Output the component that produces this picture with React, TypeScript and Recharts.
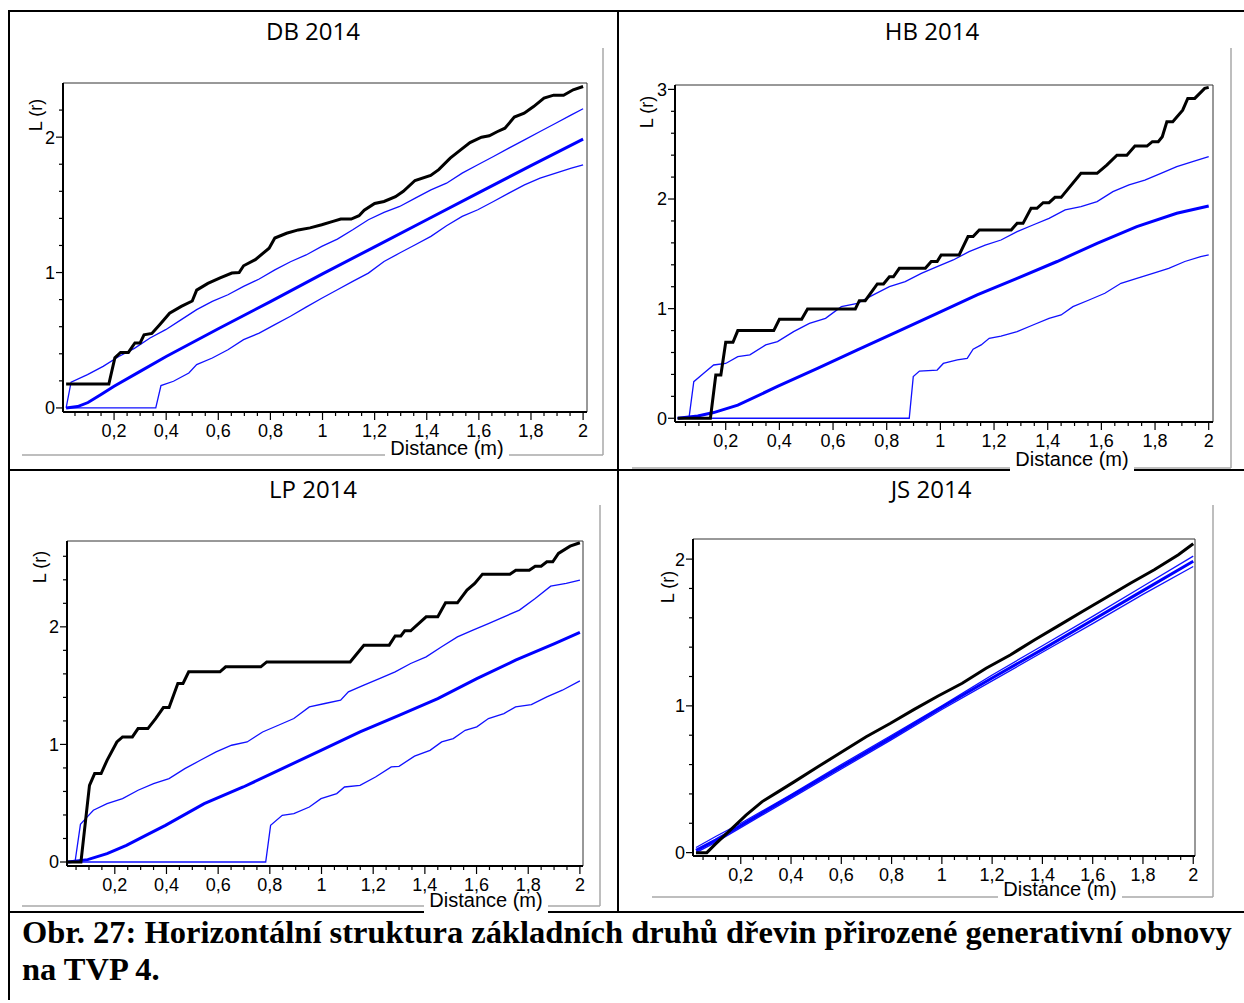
import { LineChart, Line, XAxis, YAxis, ReferenceArea } from 'recharts'

type Pt = [number, number]

// x ticks (m): minor every 0.05, labelled every 0.2
const xTicks = [
  0.05, 0.1, 0.15, 0.2, 0.25, 0.3, 0.35, 0.4, 0.45, 0.5, 0.55, 0.6, 0.65, 0.7, 0.75, 0.8, 0.85, 0.9, 0.95, 1,
  1.05, 1.1, 1.15, 1.2, 1.25, 1.3, 1.35, 1.4, 1.45, 1.5, 1.55, 1.6, 1.65, 1.7, 1.75, 1.8, 1.85, 1.9, 1.95, 2,
]
const xLabels = [0.2, 0.4, 0.6, 0.8, 1, 1.2, 1.4, 1.6, 1.8, 2]
const yLabels = [0, 1, 2, 3]

const dbYTicks = [0, 0.2, 0.4, 0.6, 0.8, 1, 1.2, 1.4, 1.6, 1.8, 2, 2.2]
const hbYTicks = [0, 0.2, 0.4, 0.6, 0.8, 1, 1.2, 1.4, 1.6, 1.8, 2, 2.2, 2.4, 2.6, 2.8, 3]
const lpYTicks = [0, 0.2, 0.4, 0.6, 0.8, 1, 1.2, 1.4, 1.6, 1.8, 2, 2.2, 2.4, 2.6]
const jsYTicks = [0, 0.2, 0.4, 0.6, 0.8, 1, 1.2, 1.4, 1.6, 1.8, 2]

// DB 2014
const dbObserved: Pt[] = [
  [0.016, 0.177], [0.18, 0.177], [0.203, 0.37], [0.225, 0.41], [0.255, 0.41], [0.28, 0.48], [0.3, 0.48],
  [0.315, 0.54], [0.345, 0.55], [0.375, 0.615], [0.413, 0.7], [0.458, 0.75], [0.5, 0.79], [0.517, 0.87],
  [0.56, 0.92], [0.607, 0.96], [0.652, 0.996], [0.68, 1.0], [0.697, 1.05], [0.742, 1.095], [0.795, 1.18],
  [0.817, 1.255], [0.862, 1.29], [0.907, 1.315], [0.952, 1.33], [0.997, 1.353], [1.04, 1.378], [1.07, 1.395],
  [1.11, 1.395], [1.14, 1.42], [1.16, 1.46], [1.2, 1.51], [1.236, 1.525], [1.28, 1.56], [1.31, 1.6],
  [1.355, 1.68], [1.415, 1.717], [1.446, 1.76], [1.49, 1.845], [1.53, 1.906], [1.566, 1.96], [1.61, 2.0],
  [1.64, 2.01], [1.67, 2.04], [1.7, 2.066], [1.736, 2.148], [1.774, 2.177], [1.81, 2.226], [1.85, 2.288],
  [1.887, 2.31], [1.925, 2.31], [1.962, 2.35], [2.0, 2.374],
]
const dbUpper: Pt[] = [
  [0.016, 0], [0.035, 0.19], [0.098, 0.246], [0.158, 0.307], [0.218, 0.38], [0.278, 0.44], [0.338, 0.517],
  [0.398, 0.578], [0.458, 0.652], [0.517, 0.726], [0.577, 0.787], [0.637, 0.836], [0.697, 0.898],
  [0.757, 0.952], [0.817, 1.02], [0.877, 1.08], [0.937, 1.13], [0.997, 1.193], [1.057, 1.247], [1.116, 1.316],
  [1.176, 1.39], [1.236, 1.444], [1.296, 1.488], [1.356, 1.55], [1.416, 1.61], [1.476, 1.66], [1.536, 1.734],
  [1.596, 1.796], [1.656, 1.857], [1.715, 1.919], [1.775, 1.98], [1.835, 2.042], [1.895, 2.103],
  [1.955, 2.165], [2.0, 2.21],
]
const dbTheory: Pt[] = [
  [0.016, 0], [0.06, 0.01], [0.1, 0.04], [0.15, 0.1], [0.2, 0.16], [0.3, 0.27], [0.4, 0.38], [0.6, 0.585],
  [0.8, 0.785], [1, 0.99], [1.2, 1.19], [1.4, 1.39], [1.6, 1.59], [1.8, 1.79], [2, 1.985],
]
const dbLower: Pt[] = [
  [0.016, 0], [0.36, 0], [0.38, 0.165], [0.428, 0.197], [0.487, 0.258], [0.517, 0.32], [0.577, 0.369],
  [0.637, 0.43], [0.697, 0.504], [0.757, 0.553], [0.817, 0.615], [0.877, 0.677], [0.937, 0.745],
  [0.997, 0.81], [1.057, 0.873], [1.116, 0.935], [1.176, 0.996], [1.236, 1.082], [1.296, 1.144],
  [1.356, 1.205], [1.416, 1.267], [1.476, 1.346], [1.536, 1.415], [1.596, 1.464], [1.656, 1.525],
  [1.715, 1.587], [1.775, 1.648], [1.835, 1.697], [1.895, 1.734], [1.955, 1.771], [2.0, 1.796],
]

// HB 2014
const hbObserved: Pt[] = [
  [0.021, 0], [0.143, 0], [0.163, 0.395], [0.182, 0.395], [0.2, 0.693], [0.227, 0.693], [0.245, 0.8],
  [0.379, 0.8], [0.4, 0.903], [0.483, 0.903], [0.505, 0.997], [0.683, 0.997], [0.698, 1.073], [0.72, 1.073],
  [0.765, 1.225], [0.788, 1.225], [0.81, 1.29], [0.825, 1.29], [0.847, 1.368], [0.944, 1.368], [0.966, 1.43],
  [0.988, 1.43], [1.003, 1.49], [1.07, 1.49], [1.103, 1.657], [1.122, 1.657], [1.145, 1.717], [1.264, 1.717],
  [1.286, 1.778], [1.308, 1.778], [1.338, 1.915], [1.36, 1.915], [1.383, 1.967], [1.405, 1.967],
  [1.427, 2.015], [1.45, 2.015], [1.524, 2.234], [1.584, 2.234], [1.62, 2.31], [1.658, 2.4], [1.695, 2.4],
  [1.725, 2.483], [1.77, 2.483], [1.79, 2.523], [1.812, 2.523], [1.827, 2.568], [1.844, 2.705],
  [1.866, 2.705], [1.903, 2.81], [1.922, 2.918], [1.948, 2.918], [1.985, 3.009], [2.0, 3.018],
]
const hbUpper: Pt[] = [
  [0.021, 0], [0.063, 0], [0.081, 0.334], [0.118, 0.41], [0.155, 0.486], [0.2, 0.5], [0.245, 0.562],
  [0.29, 0.578], [0.349, 0.669], [0.393, 0.7], [0.453, 0.79], [0.512, 0.866], [0.572, 0.912], [0.631, 1.018],
  [0.691, 1.049], [0.75, 1.125], [0.81, 1.2], [0.869, 1.246], [0.929, 1.322], [0.988, 1.383], [1.048, 1.444],
  [1.107, 1.52], [1.167, 1.58], [1.226, 1.626], [1.286, 1.702], [1.345, 1.763], [1.405, 1.824],
  [1.465, 1.9], [1.524, 1.93], [1.584, 1.976], [1.643, 2.067], [1.703, 2.128], [1.762, 2.173],
  [1.822, 2.234], [1.881, 2.295], [1.94, 2.34], [2.0, 2.386],
]
const hbTheory: Pt[] = [
  [0.021, 0], [0.096, 0.02], [0.155, 0.052], [0.245, 0.12], [0.393, 0.29], [0.542, 0.456], [0.691, 0.623],
  [0.84, 0.79], [0.988, 0.957], [1.137, 1.125], [1.286, 1.277], [1.435, 1.43], [1.584, 1.596],
  [1.732, 1.748], [1.881, 1.87], [2.0, 1.936],
]
const hbLower: Pt[] = [
  [0.021, 0], [0.884, 0], [0.899, 0.38], [0.922, 0.43], [0.988, 0.44], [1.011, 0.5], [1.063, 0.532],
  [1.1, 0.547], [1.122, 0.63], [1.152, 0.669], [1.182, 0.73], [1.226, 0.75], [1.286, 0.79], [1.345, 0.851],
  [1.405, 0.912], [1.45, 0.942], [1.494, 1.018], [1.554, 1.079], [1.613, 1.14], [1.673, 1.231],
  [1.732, 1.277], [1.792, 1.322], [1.851, 1.368], [1.911, 1.43], [1.97, 1.474], [2.0, 1.49],
]

// LP 2014
const lpObserved: Pt[] = [
  [0.019, 0], [0.069, 0], [0.102, 0.652], [0.122, 0.752], [0.147, 0.752], [0.17, 0.865], [0.208, 1.021],
  [0.23, 1.064], [0.268, 1.064], [0.29, 1.135], [0.328, 1.135], [0.358, 1.22], [0.388, 1.313], [0.41, 1.313],
  [0.444, 1.518], [0.464, 1.518], [0.486, 1.617], [0.607, 1.617], [0.629, 1.66], [0.765, 1.66],
  [0.788, 1.702], [1.111, 1.702], [1.164, 1.844], [1.262, 1.844], [1.285, 1.923], [1.307, 1.923],
  [1.322, 1.966], [1.345, 1.966], [1.405, 2.085], [1.45, 2.085], [1.48, 2.204], [1.526, 2.204],
  [1.563, 2.312], [1.593, 2.369], [1.623, 2.448], [1.729, 2.448], [1.752, 2.482], [1.804, 2.482],
  [1.827, 2.516], [1.85, 2.516], [1.872, 2.553], [1.895, 2.553], [1.917, 2.624], [1.962, 2.686],
  [2.0, 2.715],
]
const lpUpper: Pt[] = [
  [0.019, 0], [0.046, 0], [0.067, 0.32], [0.087, 0.369], [0.117, 0.44], [0.17, 0.496], [0.23, 0.539],
  [0.29, 0.61], [0.35, 0.667], [0.41, 0.709], [0.471, 0.794], [0.531, 0.865], [0.592, 0.936], [0.652, 0.993],
  [0.712, 1.021], [0.772, 1.106], [0.833, 1.163], [0.893, 1.22], [0.953, 1.319], [1.013, 1.348],
  [1.074, 1.376], [1.104, 1.447], [1.164, 1.504], [1.224, 1.56], [1.285, 1.617], [1.345, 1.688],
  [1.405, 1.745], [1.465, 1.83], [1.526, 1.915], [1.586, 1.972], [1.646, 2.028], [1.706, 2.085],
  [1.766, 2.142], [1.827, 2.241], [1.887, 2.346], [1.947, 2.369], [2.0, 2.397],
]
const lpTheory: Pt[] = [
  [0.019, 0], [0.095, 0.02], [0.17, 0.071], [0.245, 0.142], [0.32, 0.227], [0.396, 0.312], [0.546, 0.496],
  [0.697, 0.638], [0.848, 0.794], [0.998, 0.95], [1.149, 1.106], [1.3, 1.248], [1.45, 1.39], [1.601, 1.56],
  [1.751, 1.716], [1.902, 1.858], [2.0, 1.952],
]
const lpLower: Pt[] = [
  [0.019, 0], [0.784, 0], [0.803, 0.312], [0.848, 0.397], [0.893, 0.411], [0.953, 0.468], [0.998, 0.539],
  [1.059, 0.582], [1.089, 0.638], [1.149, 0.652], [1.209, 0.723], [1.27, 0.809], [1.3, 0.814], [1.36, 0.9],
  [1.42, 0.95], [1.465, 1.021], [1.51, 1.05], [1.556, 1.12], [1.601, 1.149], [1.646, 1.22], [1.706, 1.262],
  [1.751, 1.319], [1.812, 1.339], [1.872, 1.404], [1.932, 1.461], [2.0, 1.54],
]

// JS 2014
const jsObserved: Pt[] = [
  [0.022, 0], [0.065, 0], [0.101, 0.061], [0.157, 0.152], [0.221, 0.255], [0.284, 0.346], [0.348, 0.414],
  [0.412, 0.482], [0.507, 0.585], [0.603, 0.687], [0.699, 0.79], [0.794, 0.88], [0.89, 0.976], [0.985, 1.067],
  [1.081, 1.154], [1.176, 1.256], [1.272, 1.347], [1.368, 1.449], [1.463, 1.545], [1.559, 1.643],
  [1.654, 1.738], [1.75, 1.836], [1.845, 1.927], [1.941, 2.03], [2.0, 2.105],
]
const jsUpper: Pt[] = [
  [0.022, 0.035], [0.1, 0.11], [0.2, 0.2], [0.4, 0.395], [0.6, 0.6], [0.8, 0.8], [1, 1.0], [1.2, 1.21],
  [1.4, 1.41], [1.6, 1.61], [1.8, 1.815], [2, 2.02],
]
const jsTheory: Pt[] = [
  [0.022, 0.015], [0.1, 0.085], [0.2, 0.185], [0.4, 0.385], [0.6, 0.585], [0.8, 0.785], [1, 0.99],
  [1.2, 1.19], [1.4, 1.385], [1.6, 1.585], [1.8, 1.785], [2, 1.985],
]
const jsLower: Pt[] = [
  [0.022, 0], [0.1, 0.07], [0.2, 0.17], [0.4, 0.37], [0.6, 0.57], [0.8, 0.77], [1, 0.975], [1.2, 1.17],
  [1.4, 1.365], [1.6, 1.56], [1.8, 1.76], [2, 1.95],
]

const SANS = '"Liberation Sans", Arial, sans-serif'

const rows = (pts: Pt[]) => pts.map(([x, y]) => ({ x, y }))
const same = (a: number, b: number) => Math.abs(a - b) < 1e-6
const fmt = (v: number) => String(v).replace('.', ',')

function XTick(props: any) {
  const { x, y, payload } = props
  const major = xLabels.some((l) => same(l, payload.value))
  return (
    <g>
      <line x1={x} x2={x} y1={y} y2={y + (major ? 8 : 4)} stroke="#000" strokeWidth={1.2} />
      {major && (
        <text x={x} y={y + 25} textAnchor="middle" fontSize={18} fontFamily={SANS} fill="#000">
          {fmt(payload.value)}
        </text>
      )}
    </g>
  )
}

function YTick(props: any) {
  const { x, y, payload } = props
  const major = yLabels.some((l) => same(l, payload.value))
  return (
    <g>
      <line x1={x} x2={x - (major ? 7 : 4)} y1={y} y2={y} stroke="#000" strokeWidth={1.2} />
      {major && (
        <text x={x - 8} y={y} dy="0.36em" textAnchor="end" fontSize={18} fontFamily={SANS} fill="#000">
          {fmt(payload.value)}
        </text>
      )}
    </g>
  )
}

type Box = { x0: number; y0: number; x1: number; y1: number }

function Panel(p: {
  box: Box
  xDomain: [number, number]
  yDomain: [number, number]
  yTicks: number[]
  observed: Pt[]
  upper: Pt[]
  theory: Pt[]
  lower: Pt[]
}) {
  const YW = 45
  const MT = 10
  const MR = 10
  const XH = 40
  const { box } = p
  const W = box.x1 - box.x0 + YW + MR
  const H = box.y1 - box.y0 + MT + XH
  return (
    <div style={{ position: 'absolute', left: box.x0 - YW, top: box.y0 - MT }}>
      <LineChart width={W} height={H} margin={{ top: MT, right: MR, bottom: 0, left: 0 }}>
        <ReferenceArea
          x1={p.xDomain[0]}
          x2={p.xDomain[1]}
          y1={p.yDomain[0]}
          y2={p.yDomain[1]}
          fill="none"
          fillOpacity={0}
          stroke="#333"
          strokeWidth={1}
        />
        <XAxis
          dataKey="x"
          type="number"
          domain={p.xDomain}
          allowDataOverflow
          ticks={xTicks}
          interval={0}
          tickSize={0}
          tickMargin={0}
          tickLine={false}
          tick={(t: any) => <XTick {...t} />}
          axisLine={{ stroke: '#000', strokeWidth: 2 }}
          height={XH}
        />
        <YAxis
          type="number"
          domain={p.yDomain}
          allowDataOverflow
          ticks={p.yTicks}
          interval={0}
          tickSize={0}
          tickMargin={0}
          tickLine={false}
          tick={(t: any) => <YTick {...t} />}
          axisLine={{ stroke: '#000', strokeWidth: 2 }}
          width={YW}
        />
        <Line data={rows(p.lower)} dataKey="y" stroke="#1010ff" strokeWidth={1.3} dot={false} activeDot={false} isAnimationActive={false} />
        <Line data={rows(p.upper)} dataKey="y" stroke="#1010ff" strokeWidth={1.3} dot={false} activeDot={false} isAnimationActive={false} />
        <Line data={rows(p.theory)} dataKey="y" stroke="#0000ff" strokeWidth={3} dot={false} activeDot={false} isAnimationActive={false} />
        <Line data={rows(p.observed)} dataKey="y" stroke="#000" strokeWidth={3} dot={false} activeDot={false} isAnimationActive={false} />
      </LineChart>
    </div>
  )
}

function Frame() {
  const gray = '#a8a8a8'
  const titles = [
    { t: 'DB 2014', x: 313, y: 40 },
    { t: 'HB 2014', x: 932, y: 40 },
    { t: 'LP 2014', x: 313, y: 498 },
    { t: 'JS 2014', x: 931, y: 498 },
  ]
  const yTitles = [
    { x: 36, y: 115 },
    { x: 647, y: 112 },
    { x: 40, y: 567 },
    { x: 668, y: 587 },
  ]
  const xTitles = [
    { x: 447, y: 455 },
    { x: 1072, y: 466 },
    { x: 486, y: 907 },
    { x: 1060, y: 896 },
  ]
  return (
    <svg width={1244} height={1003} style={{ position: 'absolute', left: 0, top: 0 }}>
      {/* table rules */}
      <rect x={8} y={10} width={1236} height={2} fill="#000" />
      <rect x={8} y={10} width={2} height={990} fill="#000" />
      <rect x={617} y={10} width={2} height={902} fill="#000" />
      <rect x={8} y={469} width={1236} height={2} fill="#000" />
      <rect x={8} y={911} width={1236} height={2} fill="#000" />
      {/* grey chart frames */}
      <line x1={603} y1={48} x2={603} y2={455} stroke={gray} strokeWidth={1.5} />
      <line x1={22} y1={455} x2={603} y2={455} stroke={gray} strokeWidth={1.5} />
      <line x1={1231} y1={48} x2={1231} y2={468} stroke={gray} strokeWidth={1.5} />
      <line x1={632} y1={468} x2={1231} y2={468} stroke={gray} strokeWidth={1.5} />
      <line x1={600} y1={505} x2={600} y2={906} stroke={gray} strokeWidth={1.5} />
      <line x1={22} y1={906} x2={600} y2={906} stroke={gray} strokeWidth={1.5} />
      <line x1={1213} y1={505} x2={1213} y2={897} stroke={gray} strokeWidth={1.5} />
      <line x1={652} y1={897} x2={1213} y2={897} stroke={gray} strokeWidth={1.5} />
      {titles.map((d) => (
        <text key={d.t} x={d.x} y={d.y} textAnchor="middle" fontSize={24} fontFamily='"Open Sans", sans-serif' fill="#000">
          {d.t}
        </text>
      ))}
      {yTitles.map((d, i) => (
        <text
          key={i}
          x={d.x}
          y={d.y}
          transform={`rotate(-90 ${d.x} ${d.y})`}
          textAnchor="middle"
          dy="0.36em"
          fontSize={18}
          fontFamily={SANS}
          fill="#000"
        >
          L (r)
        </text>
      ))}
      {xTitles.map((d, i) => (
        <g key={i}>
          <rect x={d.x - 62} y={d.y - 12} width={124} height={18} fill="#fff" />
          <text x={d.x} y={d.y} textAnchor="middle" fontSize={20} fontFamily={SANS} fill="#000">
            Distance (m)
          </text>
        </g>
      ))}
      <text x={22} y={943} fontSize={32.5} fontWeight="bold" fontFamily='"Liberation Serif", "Times New Roman", serif' fill="#000">
        Obr. 27: Horizontální struktura základních druhů dřevin přirozené generativní obnovy
      </text>
      <text x={22} y={980} fontSize={32.5} fontWeight="bold" fontFamily='"Liberation Serif", "Times New Roman", serif' fill="#000">
        na TVP 4.
      </text>
    </svg>
  )
}

export default function App() {
  return (
    <div style={{ position: 'absolute', left: 0, top: 0, width: 1244, height: 1003, background: '#fff' }}>
      <Frame />
      <Panel
        box={{ x0: 63, y0: 83, x1: 587, y1: 412 }}
        xDomain={[0.004, 2.015]}
        yDomain={[-0.03, 2.4]}
        yTicks={dbYTicks}
        observed={dbObserved}
        upper={dbUpper}
        theory={dbTheory}
        lower={dbLower}
      />
      <Panel
        box={{ x0: 675, y0: 85, x1: 1213, y1: 422 }}
        xDomain={[0.011, 2.016]}
        yDomain={[-0.034, 3.04]}
        yTicks={hbYTicks}
        observed={hbObserved}
        upper={hbUpper}
        theory={hbTheory}
        lower={hbLower}
      />
      <Panel
        box={{ x0: 67, y0: 541, x1: 583, y1: 866 }}
        xDomain={[0.015, 2.012]}
        yDomain={[-0.034, 2.73]}
        yTicks={lpYTicks}
        observed={lpObserved}
        upper={lpUpper}
        theory={lpTheory}
        lower={lpLower}
      />
      <Panel
        box={{ x0: 693, y0: 539, x1: 1195, y1: 856 }}
        xDomain={[0.01, 2.007]}
        yDomain={[-0.023, 2.137]}
        yTicks={jsYTicks}
        observed={jsObserved}
        upper={jsUpper}
        theory={jsTheory}
        lower={jsLower}
      />
    </div>
  )
}
